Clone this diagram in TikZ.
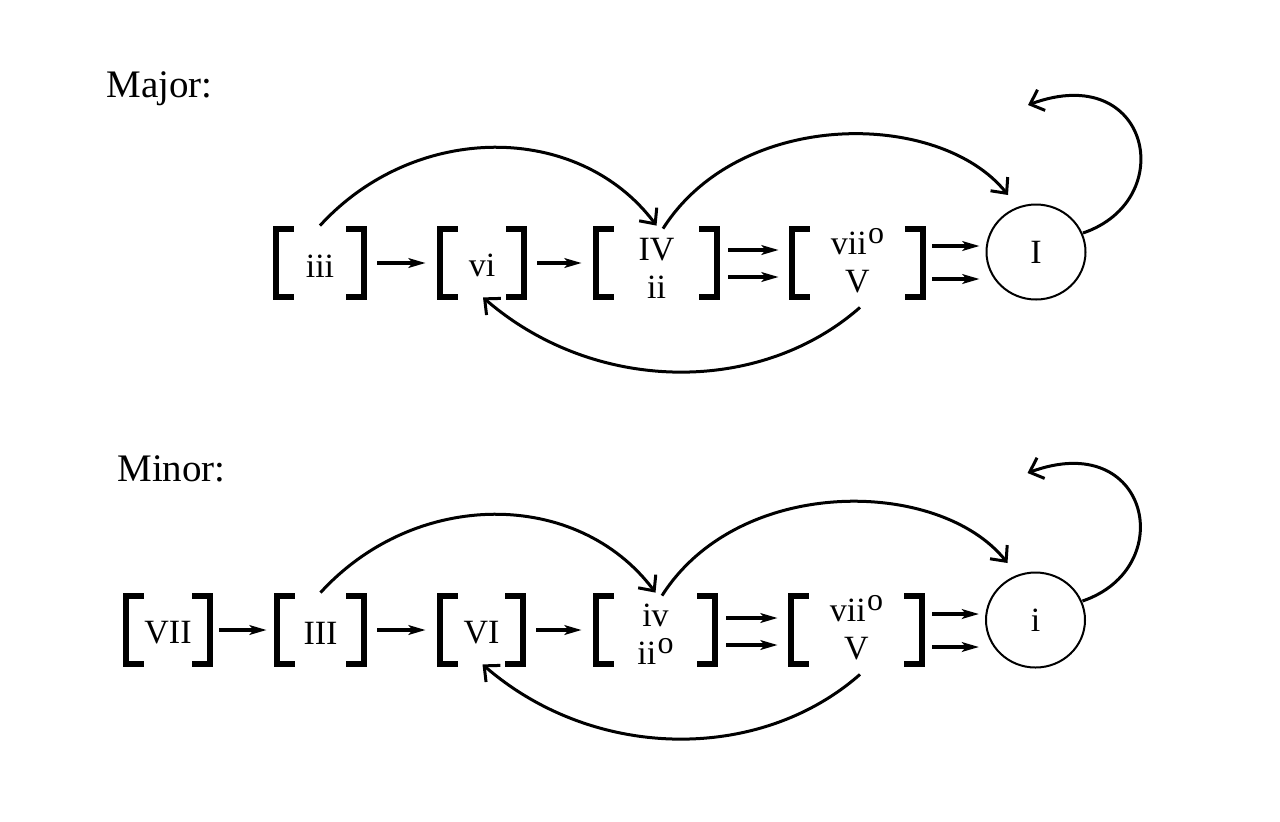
\documentclass[tikz,border=0pt]{standalone}
\usepackage{fontspec}
\setmainfont{Liberation Serif}
\usetikzlibrary{arrows.meta,shapes.geometric,calc}
\newcommand\usup{\kern0.6pt\raisebox{5.5pt}{\fontsize{16}{16}\selectfont o}}
\newcommand\topstrut[1]{\rule{0pt}{#1}}
\newcommand\botstrut[1]{\rule[-#1]{0pt}{#1}}
\newcommand\grpbrackets[1]{%
  \draw[brk] ([shift={(21,3.25)}]#1.north west) -- ([shift={(3.25,3.25)}]#1.north west)
     -- ([shift={(3.25,-3.25)}]#1.south west) -- ([shift={(21,-3.25)}]#1.south west);
  \draw[brk] ([shift={(-21,3.25)}]#1.north east) -- ([shift={(-3.25,3.25)}]#1.north east)
     -- ([shift={(-3.25,-3.25)}]#1.south east) -- ([shift={(-21,-3.25)}]#1.south east);}
\tikzset{
  grp/.style={rectangle, minimum height=37pt, inner sep=0pt, align=center,
    font=\fontsize{17}{19}\selectfont},
  tonic/.style={ellipse, draw, line width=1pt, minimum width=49.5pt, minimum height=47.5pt,
    inner sep=0pt, font=\fontsize{17}{19}\selectfont},
  lbl/.style={anchor=base west, inner sep=0pt, font=\fontsize{19.5}{22}\selectfont},
  brk/.style={line width=3.25pt, line join=miter, line cap=butt},
  sarr/.style={line width=1.8pt, -{Stealth[length=8.5pt,width=4.8pt,inset=2pt]}},
  carr/.style={line width=1.5pt, -{Straight Barb[length=6pt,width=11pt]}},
}
\begin{document}
\begin{tikzpicture}[x=0.5pt,y=-0.5pt]
\useasboundingbox (0,0) rectangle (1280,821);

% ---------- Major ----------
\node[lbl] (tmaj) at (106,97) {Major:};
\node[grp, minimum width=47pt]   (n1) at (320,263)   {\topstrut{14pt}iii};
\node[grp, minimum width=45pt]   (n2) at (482,263)   {\topstrut{14pt}vi};
\node[grp, minimum width=63.5pt] (n3) at (656.5,263) {\topstrut{16pt}IV\\ii};
\node[grp, minimum width=68.5pt] (n4) at (857.5,263) {vii\usup\\V\botstrut{3pt}};
\node[tonic] (c1) at (1036,252) {I};
\grpbrackets{n1}\grpbrackets{n2}\grpbrackets{n3}\grpbrackets{n4}

\draw[sarr, shorten <=5pt, shorten >=5.5pt] (n1.east) -- (n2.west);
\draw[sarr, shorten <=5pt, shorten >=5.5pt] (n2.east) -- (n3.west);
\draw[sarr, shorten <=4pt, shorten >=5pt] ([shift={(0,-13)}]n3.east) -- ([shift={(0,-13)}]n4.west);
\draw[sarr, shorten <=4pt, shorten >=5pt] ([shift={(0,14)}]n3.east) -- ([shift={(0,14)}]n4.west);
\draw[sarr, shorten <=3pt, shorten >=3pt] ([shift={(0,-17)}]n4.east) -- ([shift={(0,-17)}]n4.east -| c1.west);
\draw[sarr, shorten <=3pt, shorten >=3pt] ([shift={(0,16)}]n4.east) -- ([shift={(0,16)}]n4.east -| c1.west);

\draw[carr] (n1.north) .. controls +(95,-104) and +(-78,-104) .. (n3.north);
\draw[carr] ([shift={(6.5,3)}]n3.north) .. controls +(77,-121) and +(-68,-85) .. ([shift={(-28,-57)}]c1.center);
\draw[carr] ([shift={(2.5,7)}]n4.south) .. controls +(-100,88) and +(112,97) .. ([shift={(1,-3)}]n2.south);
\draw[carr] ([shift={(47,-19)}]c1.center) .. controls +(97,-33) and +(122,-45) .. ([shift={(-8,-147)}]c1.center);

% ---------- Minor ----------
\node[lbl] (tmin) at (117,481) {Minor:};
\node[grp, minimum width=45pt]   (m0) at (168,630)   {\topstrut{14pt}VII};
\node[grp, minimum width=46.5pt] (m1) at (320.5,630) {\topstrut{14pt}III};
\node[grp, minimum width=44.5pt] (m2) at (481.5,630) {\topstrut{14pt}VI};
\node[grp, minimum width=62.5pt] (m3) at (655.5,630) {\topstrut{15pt}iv\\ii\usup};
\node[grp, minimum width=68.5pt] (m4) at (856.5,630) {vii\usup\\V\botstrut{3pt}};
\node[tonic] (c2) at (1035.5,620) {i};
\grpbrackets{m0}\grpbrackets{m1}\grpbrackets{m2}\grpbrackets{m3}\grpbrackets{m4}

\draw[sarr, shorten <=3pt, shorten >=3.5pt] (m0.east) -- (m1.west);
\draw[sarr, shorten <=5pt, shorten >=5.5pt] (m1.east) -- (m2.west);
\draw[sarr, shorten <=5pt, shorten >=5.5pt] (m2.east) -- (m3.west);
\draw[sarr, shorten <=4pt, shorten >=5pt] ([shift={(0,-12)}]m3.east) -- ([shift={(0,-12)}]m4.west);
\draw[sarr, shorten <=4pt, shorten >=5pt] ([shift={(0,15)}]m3.east) -- ([shift={(0,15)}]m4.west);
\draw[sarr, shorten <=3.5pt, shorten >=3pt] ([shift={(0,-16)}]m4.east) -- ([shift={(0,-16)}]m4.east -| c2.west);
\draw[sarr, shorten <=3.5pt, shorten >=3pt] ([shift={(0,17)}]m4.east) -- ([shift={(0,17)}]m4.east -| c2.west);

\draw[carr] (m1.north) .. controls +(95,-104) and +(-78,-104) .. (m3.north);
\draw[carr] ([shift={(6.5,3)}]m3.north) .. controls +(77,-121) and +(-68,-85) .. ([shift={(-28,-57)}]c2.center);
\draw[carr] ([shift={(3.5,7)}]m4.south) .. controls +(-100,88) and +(112,97) .. ([shift={(1,-3)}]m2.south);
\draw[carr] ([shift={(47,-19)}]c2.center) .. controls +(97,-33) and +(122,-45) .. ([shift={(-8,-147)}]c2.center);
\end{tikzpicture}
\end{document}
